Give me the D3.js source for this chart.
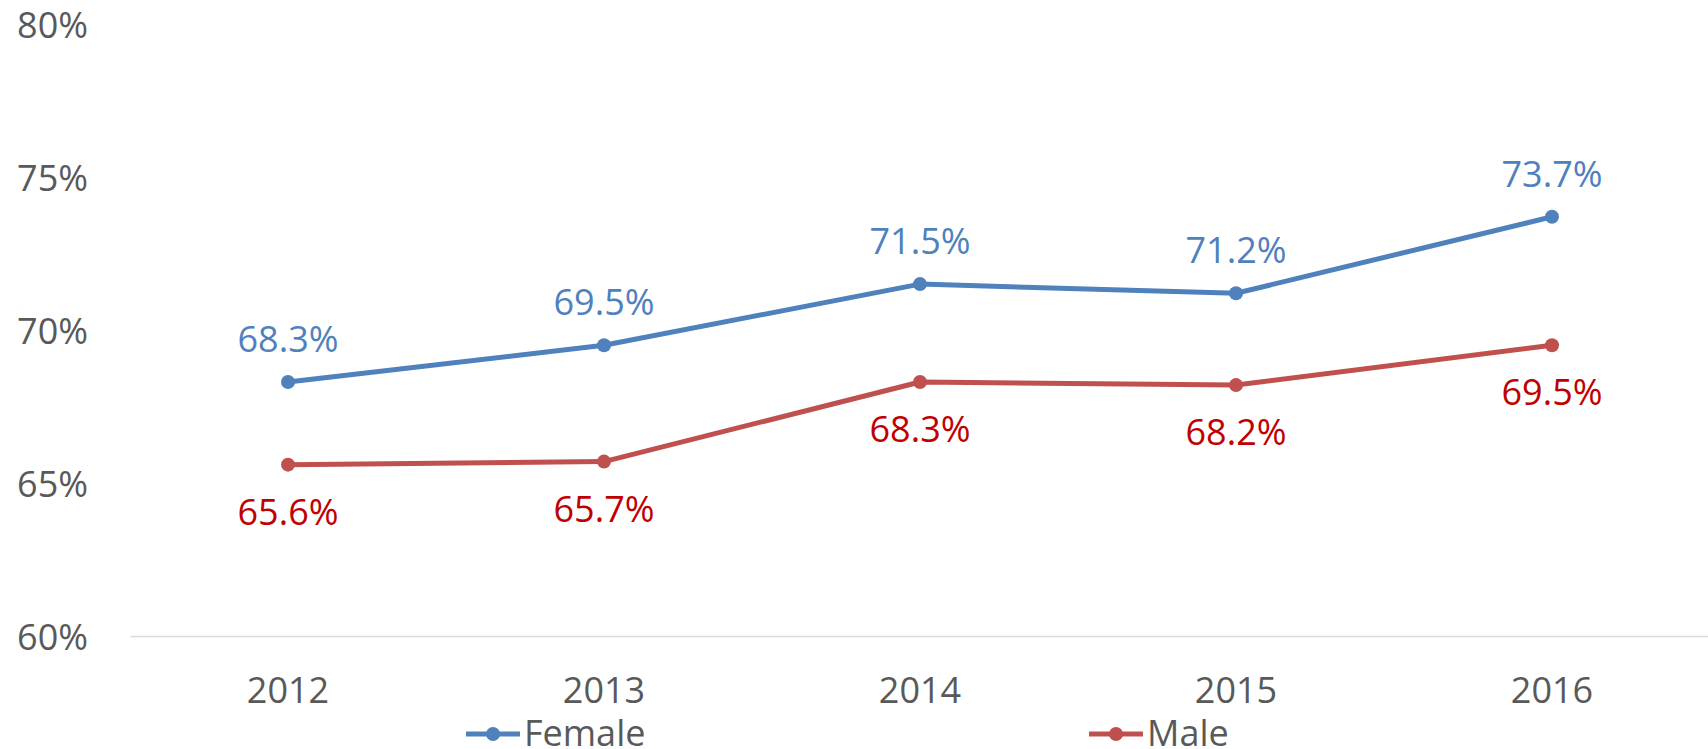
<!DOCTYPE html>
<html><head><meta charset="utf-8">
<script src="https://cdn.jsdelivr.net/npm/d3@7"></script>
<style>html,body{margin:0;padding:0;background:#fff;overflow:hidden}</style>
</head><body><svg id="c" width="1708" height="749"></svg>
<script>
const years = ["2012","2013","2014","2015","2016"];
const female = [68.3, 69.5, 71.5, 71.2, 73.7];
const male = [65.6, 65.7, 68.3, 68.2, 69.5];
const yTicks = [60, 65, 70, 75, 80];
const seriesNames = ["Female", "Male"];

const svg = d3.select("#c");
const font = "'Open Sans', 'Segoe UI', sans-serif";
const x = d3.scaleBand().domain(years).range([130, 1710]);
const y = d3.scaleLinear().domain([60, 80]).range([636, 24]);
const cx = d => x(d) + x.bandwidth() / 2;

// y axis labels
const ya = svg.append("g").attr("transform", "translate(88,0)")
  .call(d3.axisLeft(y).tickValues(yTicks).tickSize(0).tickPadding(0).tickFormat(d => d + "%"));
ya.select(".domain").remove();
ya.selectAll("text").attr("font-family", font).attr("font-size", 36).attr("fill", "#595959").attr("dy", "13px").attr("x", 0);

// x axis
const xa = svg.append("g").attr("transform", "translate(0,636)")
  .call(d3.axisBottom(x).tickSize(0).tickSizeOuter(0).tickPadding(0));
xa.select(".domain").attr("stroke", "#D9D9D9").attr("stroke-width", 1.5);
xa.selectAll("text").attr("font-family", font).attr("font-size", 36).attr("fill", "#595959").attr("dy", "0").attr("y", 67);

const series = [
  {name: seriesNames[0], vals: female, color: "#4F81BD", lab: "#4F81BD", off: -30},
  {name: seriesNames[1], vals: male, color: "#C0504D", lab: "#C00000", off: 60}
];
const line = d3.line().x((d, i) => cx(years[i])).y(d => y(d));
series.forEach(s => {
  const g = svg.append("g");
  g.append("path").datum(s.vals).attr("d", line).attr("fill", "none")
    .attr("stroke", s.color).attr("stroke-width", 5).attr("stroke-linejoin", "round");
  g.selectAll("circle").data(s.vals).join("circle")
    .attr("cx", (d, i) => cx(years[i])).attr("cy", d => y(d)).attr("r", 7).attr("fill", s.color);
  g.selectAll("text").data(s.vals).join("text")
    .attr("x", (d, i) => cx(years[i])).attr("y", d => y(d) + s.off)
    .attr("text-anchor", "middle").attr("font-family", font).attr("font-size", 36)
    .attr("fill", s.lab).text(d => d.toFixed(1) + "%");
});

// legend
const leg = [{x: 466, c: series[0].color, t: series[0].name}, {x: 1089, c: series[1].color, t: series[1].name}];
leg.forEach(l => {
  const g = svg.append("g");
  g.append("line").attr("x1", l.x).attr("x2", l.x + 54).attr("y1", 734).attr("y2", 734)
    .attr("stroke", l.c).attr("stroke-width", 5);
  g.append("circle").attr("cx", l.x + 27).attr("cy", 734).attr("r", 7).attr("fill", l.c);
  g.append("text").attr("x", l.x + 58).attr("y", 746).attr("font-family", font)
    .attr("font-size", 36).attr("fill", "#595959").text(l.t);
});
</script></body></html>
